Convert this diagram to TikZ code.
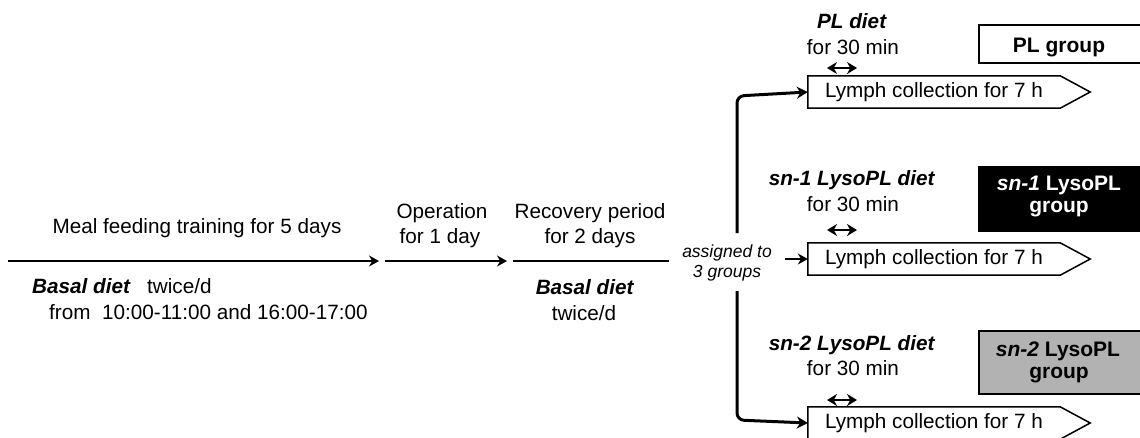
\documentclass[tikz,border=0pt]{standalone}
\usepackage{fontspec}
\setmainfont{Liberation Sans}
\usetikzlibrary{arrows.meta,calc}
\begin{document}
\begin{tikzpicture}[x=1pt,y=-1pt,
  txt/.style={font=\fontsize{20.7}{24}\selectfont, inner sep=0pt, anchor=base},
  small/.style={font=\fontsize{17.5}{20}\selectfont\itshape, inner sep=0pt, anchor=base},
  arr/.style={line width=1.6pt, -{Stealth[length=10pt,width=11pt]}},
  plain/.style={line width=1.6pt},
  thickarr/.style={line width=3pt, rounded corners=7pt, -{Stealth[length=11pt,width=12pt]}},
  dbl/.style={line width=2.6pt, {Stealth[length=10pt,width=12pt]}-{Stealth[length=10pt,width=12pt]}},
  lymph/.style={minimum width=252pt, minimum height=32pt, inner sep=0pt, font=\fontsize{20.7}{24}\selectfont},
  boxline/.style={line width=1.5pt},
  grp/.style={draw, line width=1.5pt, anchor=north west, minimum width=166pt, inner sep=0pt},
  grptxt/.style={font=\fontsize{21}{24}\selectfont\bfseries, inner sep=0pt, anchor=base}
]
\useasboundingbox (0,0) rectangle (1140,437);
\clip (0,0) rectangle (1140,437);

% main timeline
\coordinate (m0) at (8,261);
\coordinate (m1) at (379,261);
\coordinate (m2) at (385,261);
\coordinate (m3) at (507,261);
\coordinate (m4) at (513,261);
\coordinate (m5) at (669,261);
\draw[arr] (m0) -- (m1);
\draw[arr] (m2) -- (m3);
\draw[plain] (m4) -- (m5);

% left texts
\node[txt] (meal) at (197,233) {Meal feeding training for 5 days};
\node[txt, anchor=base west] (basal1) at (32,293) {\textbf{\textit{Basal diet}}};
\node[txt, anchor=base west] (twice1) at (147,293) {twice/d};
\node[txt, anchor=base west] (from) at (49,319) {from \ 10:00-11:00 and 16:00-17:00};

\node[txt] (op1) at (442,218) {Operation};
\node[txt] (op2) at (440,243) {for 1 day};
\node[txt] (rec1) at (590,218) {Recovery period};
\node[txt] (rec2) at (590,243) {for 2 days};
\node[txt] (basal2) at (585,294) {\textbf{\textit{Basal diet}}};
\node[txt] (twice2) at (584,320) {twice/d};

\node[small] (as1) at (727,257) {assigned to};
\node[small] (as2) at (727,277) {3 groups};

% lymph boxes
\node[lymph] (l1) at (934,92) {Lymph collection for 7 h};
\node[lymph] (l2) at (934,259) {Lymph collection for 7 h};
\node[lymph] (l3) at (934,423) {Lymph collection for 7 h};
\foreach \n in {l1,l2,l3}{
  \draw[boxline] (\n.north west) -- (\n.north east) -- ($(\n.east)+(30,0)$) -- (\n.south east) -- (\n.south west) -- cycle;
}

% distribution lines
\coordinate (vt) at (737,233);
\coordinate (vc1) at (737,96);
\coordinate (vb) at (737,291);
\coordinate (vc2) at (737,420);
\coordinate (a2) at (785,259);
\draw[thickarr] (vt) -- (vc1) -- (l1.west);
\draw[thickarr] (vb) -- (vc2) -- (l3.west);
\draw[arr] (a2) -- (l2.west);

% diet labels
\node[txt] (pl1) at (852,28) {\textbf{\textit{PL diet}}};
\node[txt] (pl2) at (853,54) {for 30 min};
\node[txt] (s1a) at (852,185) {\textbf{\textit{sn-1 LysoPL diet}}};
\node[txt] (s1b) at (853,211) {for 30 min};
\node[txt] (s2a) at (852,350) {\textbf{\textit{sn-2 LysoPL diet}}};
\node[txt] (s2b) at (853,375) {for 30 min};

\coordinate (d1a) at (827,68); \coordinate (d1b) at (857,68);
\coordinate (d2a) at (827,230); \coordinate (d2b) at (857,230);
\coordinate (d3a) at (827,400); \coordinate (d3b) at (857,400);
\draw[dbl] (d1a) -- (d1b);
\draw[dbl] (d2a) -- (d2b);
\draw[dbl] (d3a) -- (d3b);

% group boxes
\node[grp, minimum height=38pt] (g1) at (978,24) {};
\node[grp, minimum height=64pt, fill=black] (g2) at (978,166) {};
\node[grp, minimum height=63pt, fill=black!30] (g3) at (978,330) {};
\node[grptxt] (g1t) at (1059,52) {PL group};
\node[grptxt, text=white] (g2t) at (1059,190) {\textit{sn-1} LysoPL};
\node[grptxt, text=white] (g2u) at (1059,212) {group};
\node[grptxt] (g3t) at (1058,356) {\textit{sn-2} LysoPL};
\node[grptxt] (g3u) at (1059,378) {group};
\end{tikzpicture}
\end{document}
